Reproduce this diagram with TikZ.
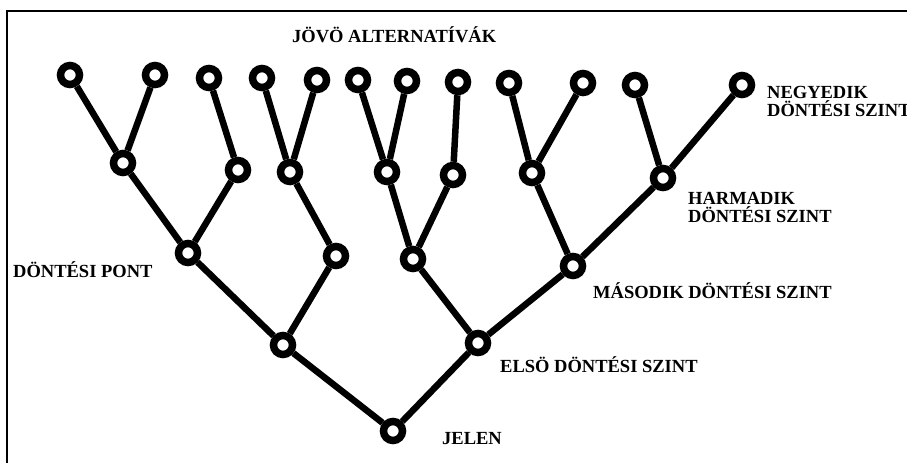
\documentclass[tikz,border=0pt]{standalone}
\usepackage{fontspec}
\setmainfont{Liberation Serif}
\begin{document}
\begin{tikzpicture}[x=1pt, y=-1pt,
    dpoint/.style={circle, draw, fill=white, line width=7.5pt, minimum size=19pt, inner sep=0pt},
    branch/.style={line width=6.5pt},
    lbl/.style={font=\fontsize{18.5}{18}\selectfont\bfseries, inner sep=0pt, align=left, anchor=west}]
            \useasboundingbox (0,0) rectangle (907,463);

            % Frame
            \draw[line width=2pt] (7,463) -- (7,11) -- (907,11);

            % Present and first level
            \node[dpoint] (R) at (393,431) {};
            \node[dpoint] (E1) at (283,345) {};
            \node[dpoint] (E2) at (478,343) {};

            % Second level
            \node[dpoint] (D1) at (188,253) {};
            \node[dpoint] (D2) at (336,256) {};
            \node[dpoint] (D3) at (413,259) {};
            \node[dpoint] (D4) at (573,266) {};

            % Third level
            \node[dpoint] (M1) at (123,163) {};
            \node[dpoint] (M2) at (238,170) {};
            \node[dpoint] (M3) at (290,172) {};
            \node[dpoint] (M4) at (387,172) {};
            \node[dpoint] (M5) at (453,175) {};
            \node[dpoint] (M6) at (532,173) {};
            \node[dpoint] (M7) at (663,178) {};

            % Fourth level (future alternatives)
            \node[dpoint] (L1) at (70,75) {};
            \node[dpoint] (L2) at (155,75) {};
            \node[dpoint] (L3) at (209,78) {};
            \node[dpoint] (L4) at (262,78) {};
            \node[dpoint] (L5) at (317,80) {};
            \node[dpoint] (L6) at (358,80) {};
            \node[dpoint] (L7) at (407,81) {};
            \node[dpoint] (L8) at (458,82) {};
            \node[dpoint] (L9) at (509,83) {};
            \node[dpoint] (L10) at (583,83) {};
            \node[dpoint] (L11) at (635,85) {};
            \node[dpoint] (L12) at (742,85) {};

            % Branches
            \foreach \a/\b in {R/E1, R/E2, E1/D1, E1/D2, E2/D3, E2/D4,
                D1/M1, D1/M2, D2/M3, D3/M4, D3/M5, D4/M6, D4/M7,
                M1/L1, M1/L2, M2/L3, M3/L4, M3/L5, M4/L6, M4/L7,
                M5/L8, M6/L9, M6/L10, M7/L11, M7/L12}
                \draw[branch] (\a) -- (\b);

            % Labels
            \node[lbl] (future) at (292,35) {JÖVÖ ALTERNATÍVÁK};
            \node[lbl] (fourth) at (767,101) {NEGYEDIK\\DÖNTÉSI SZINT};
            \node[lbl] (third) at (688,207.5) {HARMADIK\\DÖNTÉSI SZINT};
            \node[lbl] (second) at (593,291) {MÁSODIK DÖNTÉSI SZINT};
            \node[lbl] (first) at (500,365) {ELSÖ DÖNTÉSI SZINT};
            \node[lbl] (point) at (13,270) {DÖNTÉSI PONT};
            \node[lbl] (present) at (442,439) {JELEN};
        \end{tikzpicture}
\end{document}
